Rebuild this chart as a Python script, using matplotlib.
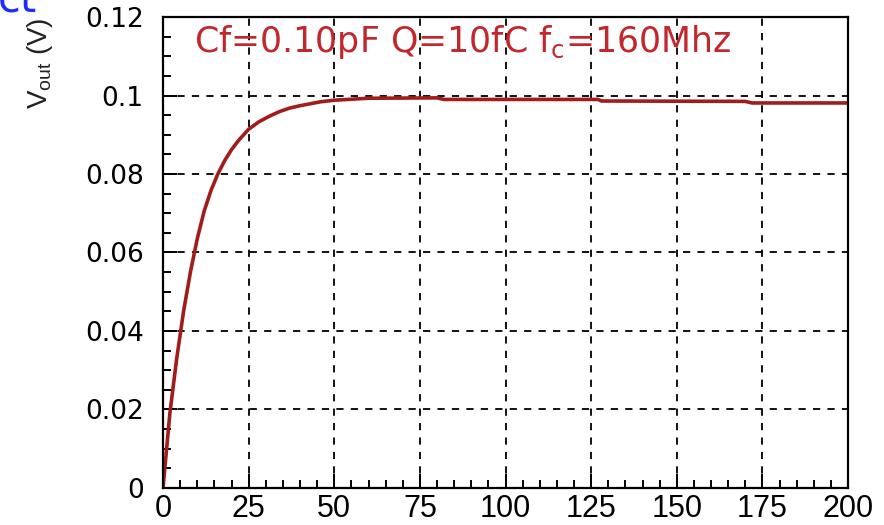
import matplotlib
matplotlib.use("Agg")
import matplotlib.pyplot as plt
from matplotlib.ticker import MultipleLocator

plt.rcParams['font.family'] = ['Liberation Sans', 'DejaVu Sans']
plt.rcParams['mathtext.default'] = 'regular'

# output pulse of the preamp (time in ns, Vout in V)
t_ns = [0, 1, 2, 3, 4, 5, 6, 8, 10, 12, 14, 16, 18, 20, 22, 25, 28, 31,
        34, 37, 40, 43, 46, 50, 60, 80, 82, 127, 128, 170, 172, 200]
vout = [0.0, 0.0095, 0.019, 0.026, 0.033, 0.039, 0.045, 0.055, 0.0635,
        0.0705, 0.0758, 0.0800, 0.0834, 0.0862, 0.0885, 0.0914, 0.0933,
        0.0947, 0.0959, 0.0968, 0.0974, 0.0979, 0.0984, 0.0988, 0.0993,
        0.0994, 0.0990, 0.0990, 0.0986, 0.0985, 0.0981, 0.0981]

xticks = [0, 25, 50, 75, 100, 125, 150, 175, 200]
yticks = [0, 0.02, 0.04, 0.06, 0.08, 0.1, 0.12]
ytick_labels = ['0', '0.02', '0.04', '0.06', '0.08', '0.1', '0.12']
info = 'Cf=0.10pF Q=10fC f$_c$=160Mhz'

fig = plt.figure(figsize=(8.84, 5.25), dpi=100)
ax = fig.add_axes([0.1844, 0.0705, 0.7749, 0.8971])

ax.plot(t_ns, vout, color='#a11d1d', lw=2.6)

ax.set_xlim(0, 200)
ax.set_ylim(0, 0.12)
ax.set_xticks(xticks)
ax.set_yticks(yticks)
ax.set_yticklabels(ytick_labels, family='DejaVu Sans', fontsize=19)
ax.set_xticklabels([str(v) for v in xticks], fontsize=22)
ax.xaxis.set_minor_locator(MultipleLocator(5))
ax.yaxis.set_minor_locator(MultipleLocator(0.005))

ax.tick_params(which='both', direction='in', width=1.4, color='black')
ax.tick_params(axis='y', which='major', length=10, pad=14)
ax.tick_params(axis='y', which='minor', length=6)
ax.tick_params(axis='x', which='major', length=10, pad=4)
ax.tick_params(axis='x', which='minor', length=6)

ax.grid(True, which='major', color='black', linestyle=(0, (4, 4)), lw=1.3)
for s in ax.spines.values():
    s.set_linewidth(1.6)

ax.set_ylabel('V$_{out}$ (V)', loc='top', fontsize=20, color='#222222')
ax.yaxis.set_label_coords(-0.158, 1.0)

ax.text(9, 0.111, info, color='#c1272d', fontsize=25, va='baseline',
        family='DejaVu Sans')

# leftover heading cut at the top edge
fig.text(-0.002, 1 - 11 / 525, 'ct', color='#1f2bff', fontsize=30,
         va='baseline', family='DejaVu Sans')

fig.savefig('out.png', dpi=100)
